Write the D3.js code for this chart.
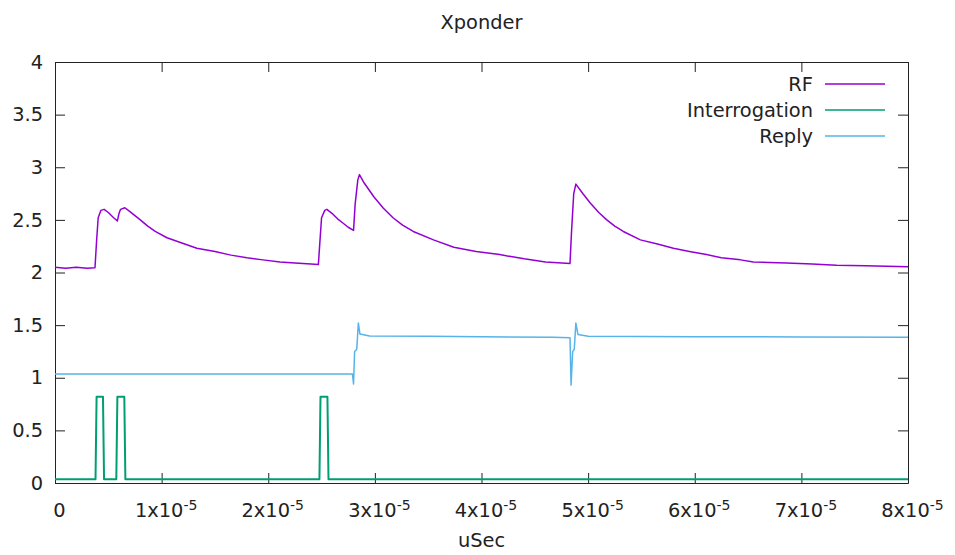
<!DOCTYPE html>
<html>
<head>
<meta charset="utf-8">
<script src="https://cdn.jsdelivr.net/npm/d3@7"></script>
<style>
  html, body { margin: 0; padding: 0; background: #fff; }
  svg text { font-family: "DejaVu Sans", sans-serif; fill: #222; }
</style>
</head>
<body>
<svg id="chart" width="955" height="555"></svg>
<script>
// time values are in microseconds, converted to seconds for the axis
const rfTime = [0, 1, 2, 3, 3.75, 3.9, 4.05, 4.3, 4.6, 5.0, 5.5, 5.85, 6.0, 6.15, 6.55, 7.0, 7.5, 8.0, 8.7, 9.4,
    10.5, 11.9, 13.3, 15.0, 16.5, 18.0, 19.5, 21.1, 22.5, 24.0, 24.7, 24.85, 25.0, 25.3, 25.5, 26.0, 26.5, 27.0,
    27.5, 28.0, 28.15, 28.4, 28.55, 29.0, 29.9, 30.8, 31.7, 32.6, 33.6, 35.5, 37.4, 39.5, 41.7, 44.0, 46.0, 48.3,
    48.45, 48.65, 48.85, 49.5, 50.2, 51.0, 51.75, 52.5, 53.3, 54.9, 56.5, 58.0, 59.5, 61.1, 62.5, 64.3, 65.5,
    67.0, 68.6, 71.0, 73.3, 76.0, 80.0];
const rfValue = [2.05, 2.04, 2.05, 2.04, 2.045, 2.3, 2.52, 2.59, 2.60, 2.57, 2.52, 2.49, 2.56, 2.60, 2.615, 2.58,
    2.54, 2.50, 2.44, 2.39, 2.33, 2.28, 2.23, 2.20, 2.165, 2.14, 2.12, 2.10, 2.09, 2.08, 2.075, 2.3, 2.52, 2.59,
    2.60, 2.56, 2.51, 2.47, 2.43, 2.40, 2.65, 2.88, 2.93, 2.85, 2.72, 2.61, 2.52, 2.45, 2.39, 2.31, 2.24, 2.20,
    2.17, 2.13, 2.10, 2.085, 2.4, 2.75, 2.84, 2.75, 2.66, 2.57, 2.50, 2.44, 2.39, 2.31, 2.27, 2.23, 2.20, 2.17,
    2.14, 2.12, 2.10, 2.095, 2.09, 2.08, 2.07, 2.065, 2.055];

const interTime = [0, 3.8, 3.9, 4.5, 4.6, 5.75, 5.85, 6.5, 6.6, 24.8, 24.9, 25.55, 25.65, 80];
const interValue = [0.035, 0.035, 0.82, 0.82, 0.035, 0.035, 0.82, 0.82, 0.035, 0.035, 0.82, 0.82, 0.035, 0.035];

const replyTime = [0, 10, 20, 27.9, 28.0, 28.1, 28.3, 28.45, 28.6, 29.5, 35, 40, 46.7, 48.3, 48.4, 48.55, 48.7,
    48.85, 49.05, 50, 60, 70, 80];
const replyValue = [1.035, 1.035, 1.035, 1.035, 0.94, 1.25, 1.27, 1.52, 1.415, 1.397, 1.395, 1.39, 1.385, 1.38,
    0.93, 1.25, 1.27, 1.52, 1.41, 1.395, 1.39, 1.388, 1.385];

const seriesNames = ['RF', 'Interrogation', 'Reply'];
const seriesColors = ['#9400d3', '#009e73', '#56b4e9'];

const xTicks = [0, 1e-5, 2e-5, 3e-5, 4e-5, 5e-5, 6e-5, 7e-5, 8e-5];
const yTicks = [0, 0.5, 1, 1.5, 2, 2.5, 3, 3.5, 4];

const margin = {top: 62, right: 47, bottom: 72, left: 55};
const width = 955 - margin.left - margin.right;
const height = 555 - margin.top - margin.bottom;
const fontSize = 19.4;

const svg = d3.select('#chart');
const g = svg.append('g').attr('transform', `translate(${margin.left},${margin.top})`);

const x = d3.scaleLinear().domain([0, 8e-5]).range([0, width]);
const y = d3.scaleLinear().domain([0, 4]).range([height, 0]);

const zip = (ts, vs) => ts.map((t, i) => ({t: t * 1e-6, v: vs[i]}));
const series = [zip(rfTime, rfValue), zip(interTime, interValue), zip(replyTime, replyValue)];

// axes, ticks point inward like gnuplot
const xAxis = g.append('g')
    .attr('transform', `translate(0,${height})`)
    .call(d3.axisBottom(x).tickValues(xTicks).tickSize(-10).tickSizeOuter(0).tickPadding(20));
xAxis.selectAll('text').each(function (d) {
    const t = d3.select(this).text('').attr('dx', 4);
    if (d === 0) {
        t.text('0');
        return;
    }
    t.append('tspan').text(`${Math.round(d / 1e-5)}x10`);
    t.append('tspan').attr('dy', '-0.45em').style('font-size', '14px').text('-5');
});

g.append('g')
    .call(d3.axisLeft(y).tickValues(yTicks).tickSize(-10).tickSizeOuter(0).tickPadding(12).tickFormat(d3.format('')));

g.append('g')
    .call(d3.axisTop(x).tickValues(xTicks).tickSize(-10).tickSizeOuter(0).tickFormat(''));
g.append('g')
    .attr('transform', `translate(${width},0)`)
    .call(d3.axisRight(y).tickValues(yTicks).tickSize(-10).tickSizeOuter(0).tickFormat(''));

g.selectAll('.tick line').attr('stroke', '#222');
g.selectAll('.domain').attr('stroke', '#222');
g.selectAll('.tick text').style('font-size', `${fontSize}px`).attr('fill', '#222');

const line = d3.line().x(d => x(d.t)).y(d => y(d.v));

series.forEach((data, i) => {
    g.append('path')
        .datum(data)
        .attr('fill', 'none')
        .attr('stroke', seriesColors[i])
        .attr('stroke-width', i === 1 ? 2 : 1.5)
        .attr('stroke-linejoin', 'round')
        .attr('d', line);
});

// legend
const legend = g.append('g');
seriesNames.forEach((name, i) => {
    const ly = 22 + i * 26;
    legend.append('text')
        .attr('x', 758)
        .attr('y', ly)
        .attr('dy', '0.35em')
        .attr('text-anchor', 'end')
        .style('font-size', `${fontSize}px`)
        .text(name);
    legend.append('line')
        .attr('x1', 770).attr('x2', 830)
        .attr('y1', ly).attr('y2', ly)
        .attr('stroke', seriesColors[i])
        .attr('stroke-width', 1.5);
});

svg.append('text')
    .attr('x', margin.left + width / 2)
    .attr('y', 29)
    .attr('text-anchor', 'middle')
    .style('font-size', `${fontSize}px`)
    .text('Xponder');

svg.append('text')
    .attr('x', margin.left + width / 2)
    .attr('y', 547)
    .attr('text-anchor', 'middle')
    .style('font-size', `${fontSize}px`)
    .text('uSec');
</script>
</body>
</html>
